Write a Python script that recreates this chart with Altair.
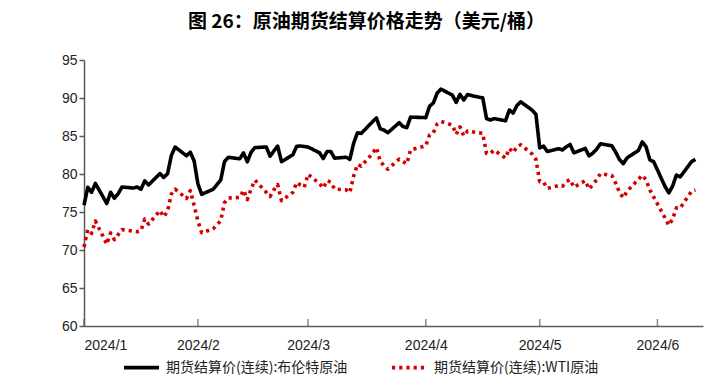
import altair as alt
import pandas as pd

TITLE = "图 26：原油期货结算价格走势（美元/桶）"
BRENT = "期货结算价(连续):布伦特原油"
WTI = "期货结算价(连续):WTI原油"

def days(month, ds):
    return [f"2024-{month:02d}-{d:02d}" for d in ds]

brent_dates = (
    days(1, [2, 3, 4, 5, 8, 9, 10, 11, 12, 15, 16, 17, 18, 19, 22, 23, 24, 25, 26, 29, 30, 31])
    + days(2, [1, 2, 5, 6, 7, 8, 9, 12, 13, 14, 15, 16, 19, 20, 21, 22, 23, 26, 27, 28, 29])
    + days(3, [1, 4, 5, 6, 7, 8, 11, 12, 13, 14, 15, 18, 19, 20, 21, 22, 25, 26, 27, 28])
    + days(4, [1, 2, 3, 4, 5, 8, 9, 10, 11, 12, 15, 16, 17, 18, 19, 22, 23, 24, 25, 26, 29, 30])
    + days(5, [1, 2, 3, 6, 7, 8, 9, 10, 13, 14, 15, 16, 17, 20, 21, 22, 23, 24, 27, 28, 29, 30, 31])
    + days(6, [3, 4, 5, 6, 7, 10, 11])
)
brent_values = [
    75.89, 78.25, 77.59, 78.76, 76.12, 77.59, 76.80, 77.41, 78.29, 78.15, 78.29, 78.00, 79.10, 78.56, 80.06, 79.55, 80.04, 82.43, 83.55, 82.40, 82.87, 81.71,
    78.70, 77.33, 77.99, 78.59, 79.21, 81.63, 82.19, 82.00, 82.77, 81.60, 82.86, 83.47, 83.56, 82.34, 83.03, 83.67, 81.62, 82.53, 83.65, 83.68, 83.62,
    83.55, 82.80, 82.04, 82.96, 82.96, 82.08, 82.21, 81.92, 84.03, 85.42, 85.34, 86.89, 87.38, 85.95, 85.78, 85.43, 86.75, 86.25, 86.09, 87.48,
    87.42, 88.92, 89.35, 90.65, 91.17, 90.38, 89.42, 90.48, 89.74, 90.45, 90.10, 90.02, 87.29, 87.11, 87.29, 87.00, 88.42, 88.02, 89.01, 89.50, 88.40, 87.86,
    83.44, 83.67, 82.96, 83.33, 83.16, 83.58, 83.88, 82.79, 83.36, 82.38, 82.75, 83.27, 83.98, 83.71, 82.88, 81.90, 81.36, 82.12, 83.10, 84.22, 83.60, 81.86, 81.62,
    78.36, 77.52, 78.41, 79.87, 79.62, 81.63, 81.92,
]

wti_dates = (
    days(1, [2, 3, 4, 5, 8, 9, 10, 11, 12, 16, 17, 18, 19, 22, 23, 24, 25, 26, 29, 30, 31])
    + days(2, [1, 2, 5, 6, 7, 8, 9, 12, 13, 14, 15, 16, 20, 21, 22, 23, 26, 27, 28, 29])
    + days(3, [1, 4, 5, 6, 7, 8, 11, 12, 13, 14, 15, 18, 19, 20, 21, 22, 25, 26, 27, 28])
    + days(4, [1, 2, 3, 4, 5, 8, 9, 10, 11, 12, 15, 16, 17, 18, 19, 22, 23, 24, 25, 26, 29, 30])
    + days(5, [1, 2, 3, 6, 7, 8, 9, 10, 13, 14, 15, 16, 17, 20, 21, 22, 23, 24, 28, 29, 30, 31])
    + days(6, [3, 4, 5, 6, 7, 10, 11])
)
wti_values = [
    70.38, 72.70, 72.19, 73.81, 70.77, 72.24, 71.37, 72.02, 72.68, 72.40, 72.56, 74.08, 73.41, 75.19, 74.37, 75.09, 77.36, 78.01, 76.78, 77.82, 75.85,
    73.82, 72.28, 72.78, 73.31, 73.86, 76.22, 76.84, 76.92, 77.87, 76.64, 78.03, 79.19, 77.04, 77.91, 78.61, 76.49, 77.58, 78.87, 78.54, 78.26,
    79.97, 78.74, 78.15, 79.13, 78.93, 78.01, 77.93, 77.56, 79.72, 81.26, 81.04, 82.72, 83.47, 81.68, 81.07, 80.63, 81.95, 81.62, 81.35, 83.17,
    83.71, 85.15, 85.43, 86.59, 86.91, 86.43, 85.23, 86.21, 85.02, 85.66, 85.41, 85.36, 82.69, 82.73, 83.14, 82.10, 83.36, 82.81, 83.57, 83.85, 82.63, 81.93,
    79.00, 78.95, 78.11, 78.48, 78.38, 78.99, 79.26, 78.26, 79.12, 78.02, 78.63, 79.23, 80.06, 79.80, 78.80, 77.57, 76.87, 77.72, 79.83, 79.23, 77.91, 76.99,
    74.22, 73.25, 74.07, 75.55, 75.53, 77.74, 77.90,
]

tick_dates = ["2024-01-02", "2024-02-01", "2024-03-01", "2024-04-01", "2024-05-01", "2024-06-01"]
y_ticks = [60, 65, 70, 75, 80, 85, 90, 95]

df = pd.concat([
    pd.DataFrame({"date": brent_dates, "value": brent_values, "series": BRENT}),
    pd.DataFrame({"date": wti_dates, "value": wti_values, "series": WTI}),
])
ticks_df = pd.DataFrame({"date": tick_dates})

FONT = "Liberation Sans"
CJK = "Noto Sans CJK SC"

x_scale = alt.Scale(type="utc",
                    domain=[alt.DateTime(year=2024, month=1, date=2, utc=True),
                            alt.DateTime(year=2024, month=6, date=13, utc=True)])
y_scale = alt.Scale(domain=[60, 95], nice=False, zero=False)

x_axis = alt.Axis(values=[alt.DateTime(year=2024, month=m, date=(2 if m == 1 else 1), utc=True) for m in range(1, 7)],
                  labelExpr="utcFormat(datum.value, '%Y/%-m')",
                  ticks=False, grid=False, labelPadding=12, title=None,
                  labelFont=FONT, labelFontSize=14, labelColor="#222222",
                  labelOverlap=False,
                  domainColor="#595959", domainWidth=1.5)
y_axis = alt.Axis(values=y_ticks, grid=False, title=None, tickSize=5,
                  tickColor="#595959", tickWidth=1.5, labelPadding=2,
                  labelFont=FONT, labelFontSize=14, labelColor="#222222",
                  labelOverlap=False,
                  domainColor="#595959", domainWidth=1.5)

leg = alt.Legend(orient="none", legendX=38, legendY=288, direction="horizontal",
                 title=None, symbolType="stroke", symbolSize=1225, symbolStrokeWidth=3.6,
                 labelFont=CJK, labelFontSize=14, labelColor="#222222", labelLimit=400,
                 labelOffset=5, columnPadding=36, padding=0)

lines = alt.Chart(df).mark_line(strokeWidth=3.6, strokeCap="butt", strokeJoin="round").encode(
    x=alt.X("date:T", scale=x_scale, axis=x_axis),
    y=alt.Y("value:Q", scale=y_scale, axis=y_axis),
    color=alt.Color("series:N", scale=alt.Scale(domain=[BRENT, WTI], range=["#000000", "#d40000"]), legend=leg),
    strokeDash=alt.StrokeDash("series:N", scale=alt.Scale(domain=[BRENT, WTI], range=[[1, 0], [3.2, 4.0]]), legend=leg),
    order=alt.Order("date:T"),
)

xticks = alt.Chart(ticks_df).mark_tick(orient="vertical", size=7, thickness=1.5, yOffset=-3.5, color="#595959").encode(
    x=alt.X("date:T", scale=x_scale, axis=x_axis),
    y=alt.YDatum(60, scale=y_scale, axis=y_axis),
)

chart = alt.layer(lines, xticks).properties(
    width=619, height=266,
    padding={"left": 76, "top": 52, "right": 6, "bottom": 50},
    autosize=alt.AutoSizeParams(type="none"),
    title=alt.TitleParams(TITLE, font=CJK, fontSize=19, fontWeight="bold", color="#000000",
                          anchor="middle", frame="group", dx=-27, offset=21),
).configure_view(stroke=None)

chart.save("out.html", embed_options={"renderer": "svg", "actions": False})
